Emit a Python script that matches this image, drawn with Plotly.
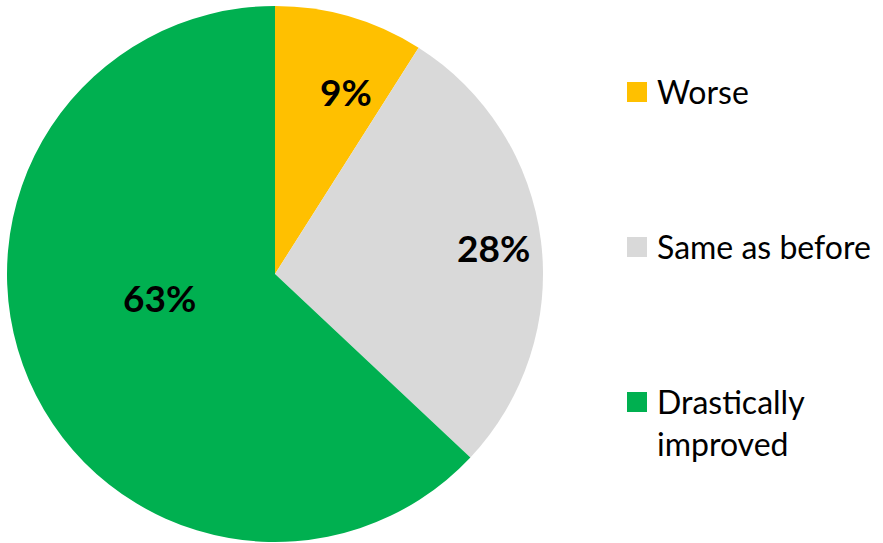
import math
import plotly.graph_objects as go

# Survey result shares
labels = ["Worse", "Same as before", "Drastically improved"]
legend_text = ["Worse", "Same as before", "Drastically<br>improved"]
values = [9, 28, 63]
colors = ["#FFC000", "#D9D9D9", "#00B050"]

W, H = 883, 543
FONT = "Lato, Open Sans, sans-serif"

# Pie placement (pixels)
CX, CY, R = 275, 274, 268
# Per-slice label placement: radial fraction and angular nudge (degrees)
label_rfrac = [0.73, 0.82, 0.44]
label_nudge = [5.0, 0.4, 11.8]

fig = go.Figure(
    go.Pie(
        labels=labels,
        values=values,
        sort=False,
        direction="clockwise",
        rotation=0,
        marker=dict(colors=colors, line=dict(width=0)),
        textinfo="none",
        domain=dict(x=[(CX - R - 2) / W, (CX + R + 2) / W], y=[1 / H, 537 / H]),
        showlegend=False,
        hoverinfo="label+percent",
    )
)

# Value labels placed along each slice's middle angle
total = sum(values)
cum = 0
for v, rf, nd in zip(values, label_rfrac, label_nudge):
    mid = (cum + v / 2) / total * 360 + nd
    cum += v
    th = math.radians(mid)
    px = CX + rf * R * math.sin(th)
    py = CY - rf * R * math.cos(th)
    fig.add_annotation(
        x=px / W, y=1 - py / H, xref="paper", yref="paper",
        xanchor="center", yanchor="middle", showarrow=False,
        text=f"{v}%",
        font=dict(family=FONT, size=37, color="black", weight="bold"),
    )

# Legend drawn as swatches and labels on the right
legend_y = [92, 247, 402]
for txt, col, py in zip(legend_text, colors, legend_y):
    fig.add_shape(
        type="rect", xref="paper", yref="paper",
        x0=627 / W, x1=647 / W,
        y0=1 - (py + 10) / H, y1=1 - (py - 10) / H,
        fillcolor=col, line=dict(width=0),
    )
    fig.add_annotation(
        x=655 / W, y=1 - (py - 22) / H, xref="paper", yref="paper",
        xanchor="left", yanchor="top", align="left",
        text=txt, showarrow=False,
        font=dict(family=FONT, size=32, color="black"),
    )

fig.update_layout(
    width=W, height=H,
    margin=dict(l=0, r=0, t=0, b=0),
    paper_bgcolor="white", plot_bgcolor="white",
)

fig.write_html("out.html")
